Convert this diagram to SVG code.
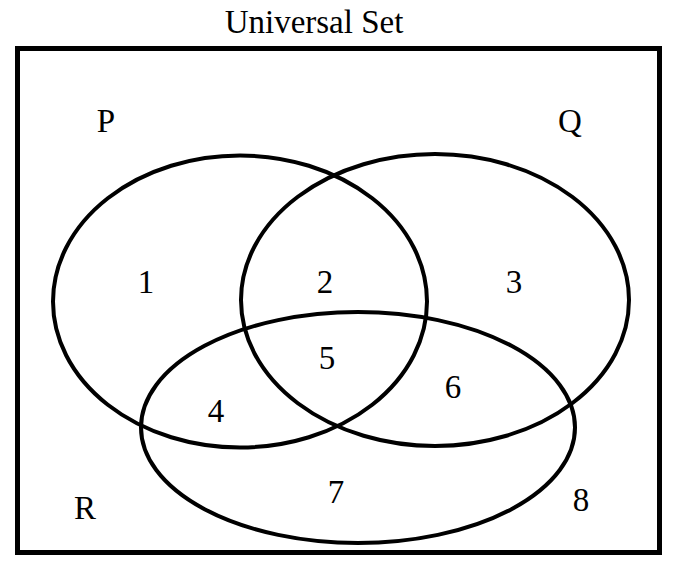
<svg xmlns="http://www.w3.org/2000/svg" width="680" height="575" viewBox="0 0 680 575">
<style>
.t{font-family:"Liberation Serif","Times New Roman",serif;font-size:33px;fill:#000;text-anchor:middle}
.s{fill:none;stroke:#000;stroke-width:4}
</style>
<rect x="0" y="0" width="680" height="575" fill="#fff"/>
<text class="t" x="314" y="33">Universal Set</text>
<rect id="universe" x="17.5" y="48.5" width="642" height="504" fill="none" stroke="#000" stroke-width="5"/>
<g id="P"><ellipse class="s" cx="240" cy="301.5" rx="187" ry="146"/><text class="t" x="106" y="132">P</text></g>
<g id="Q"><ellipse class="s" cx="435" cy="300" rx="194" ry="146"/><text class="t" x="570" y="132">Q</text></g>
<g id="R"><ellipse class="s" cx="358" cy="427.5" rx="217" ry="115.5"/><text class="t" x="85" y="519">R</text></g>
<g id="regions">
<text class="t" x="146" y="293">1</text>
<text class="t" x="325" y="293">2</text>
<text class="t" x="514" y="293">3</text>
<text class="t" x="216" y="422">4</text>
<text class="t" x="327" y="369">5</text>
<text class="t" x="453" y="398">6</text>
<text class="t" x="336" y="503">7</text>
<text class="t" x="581" y="511">8</text>
</g>
</svg>
